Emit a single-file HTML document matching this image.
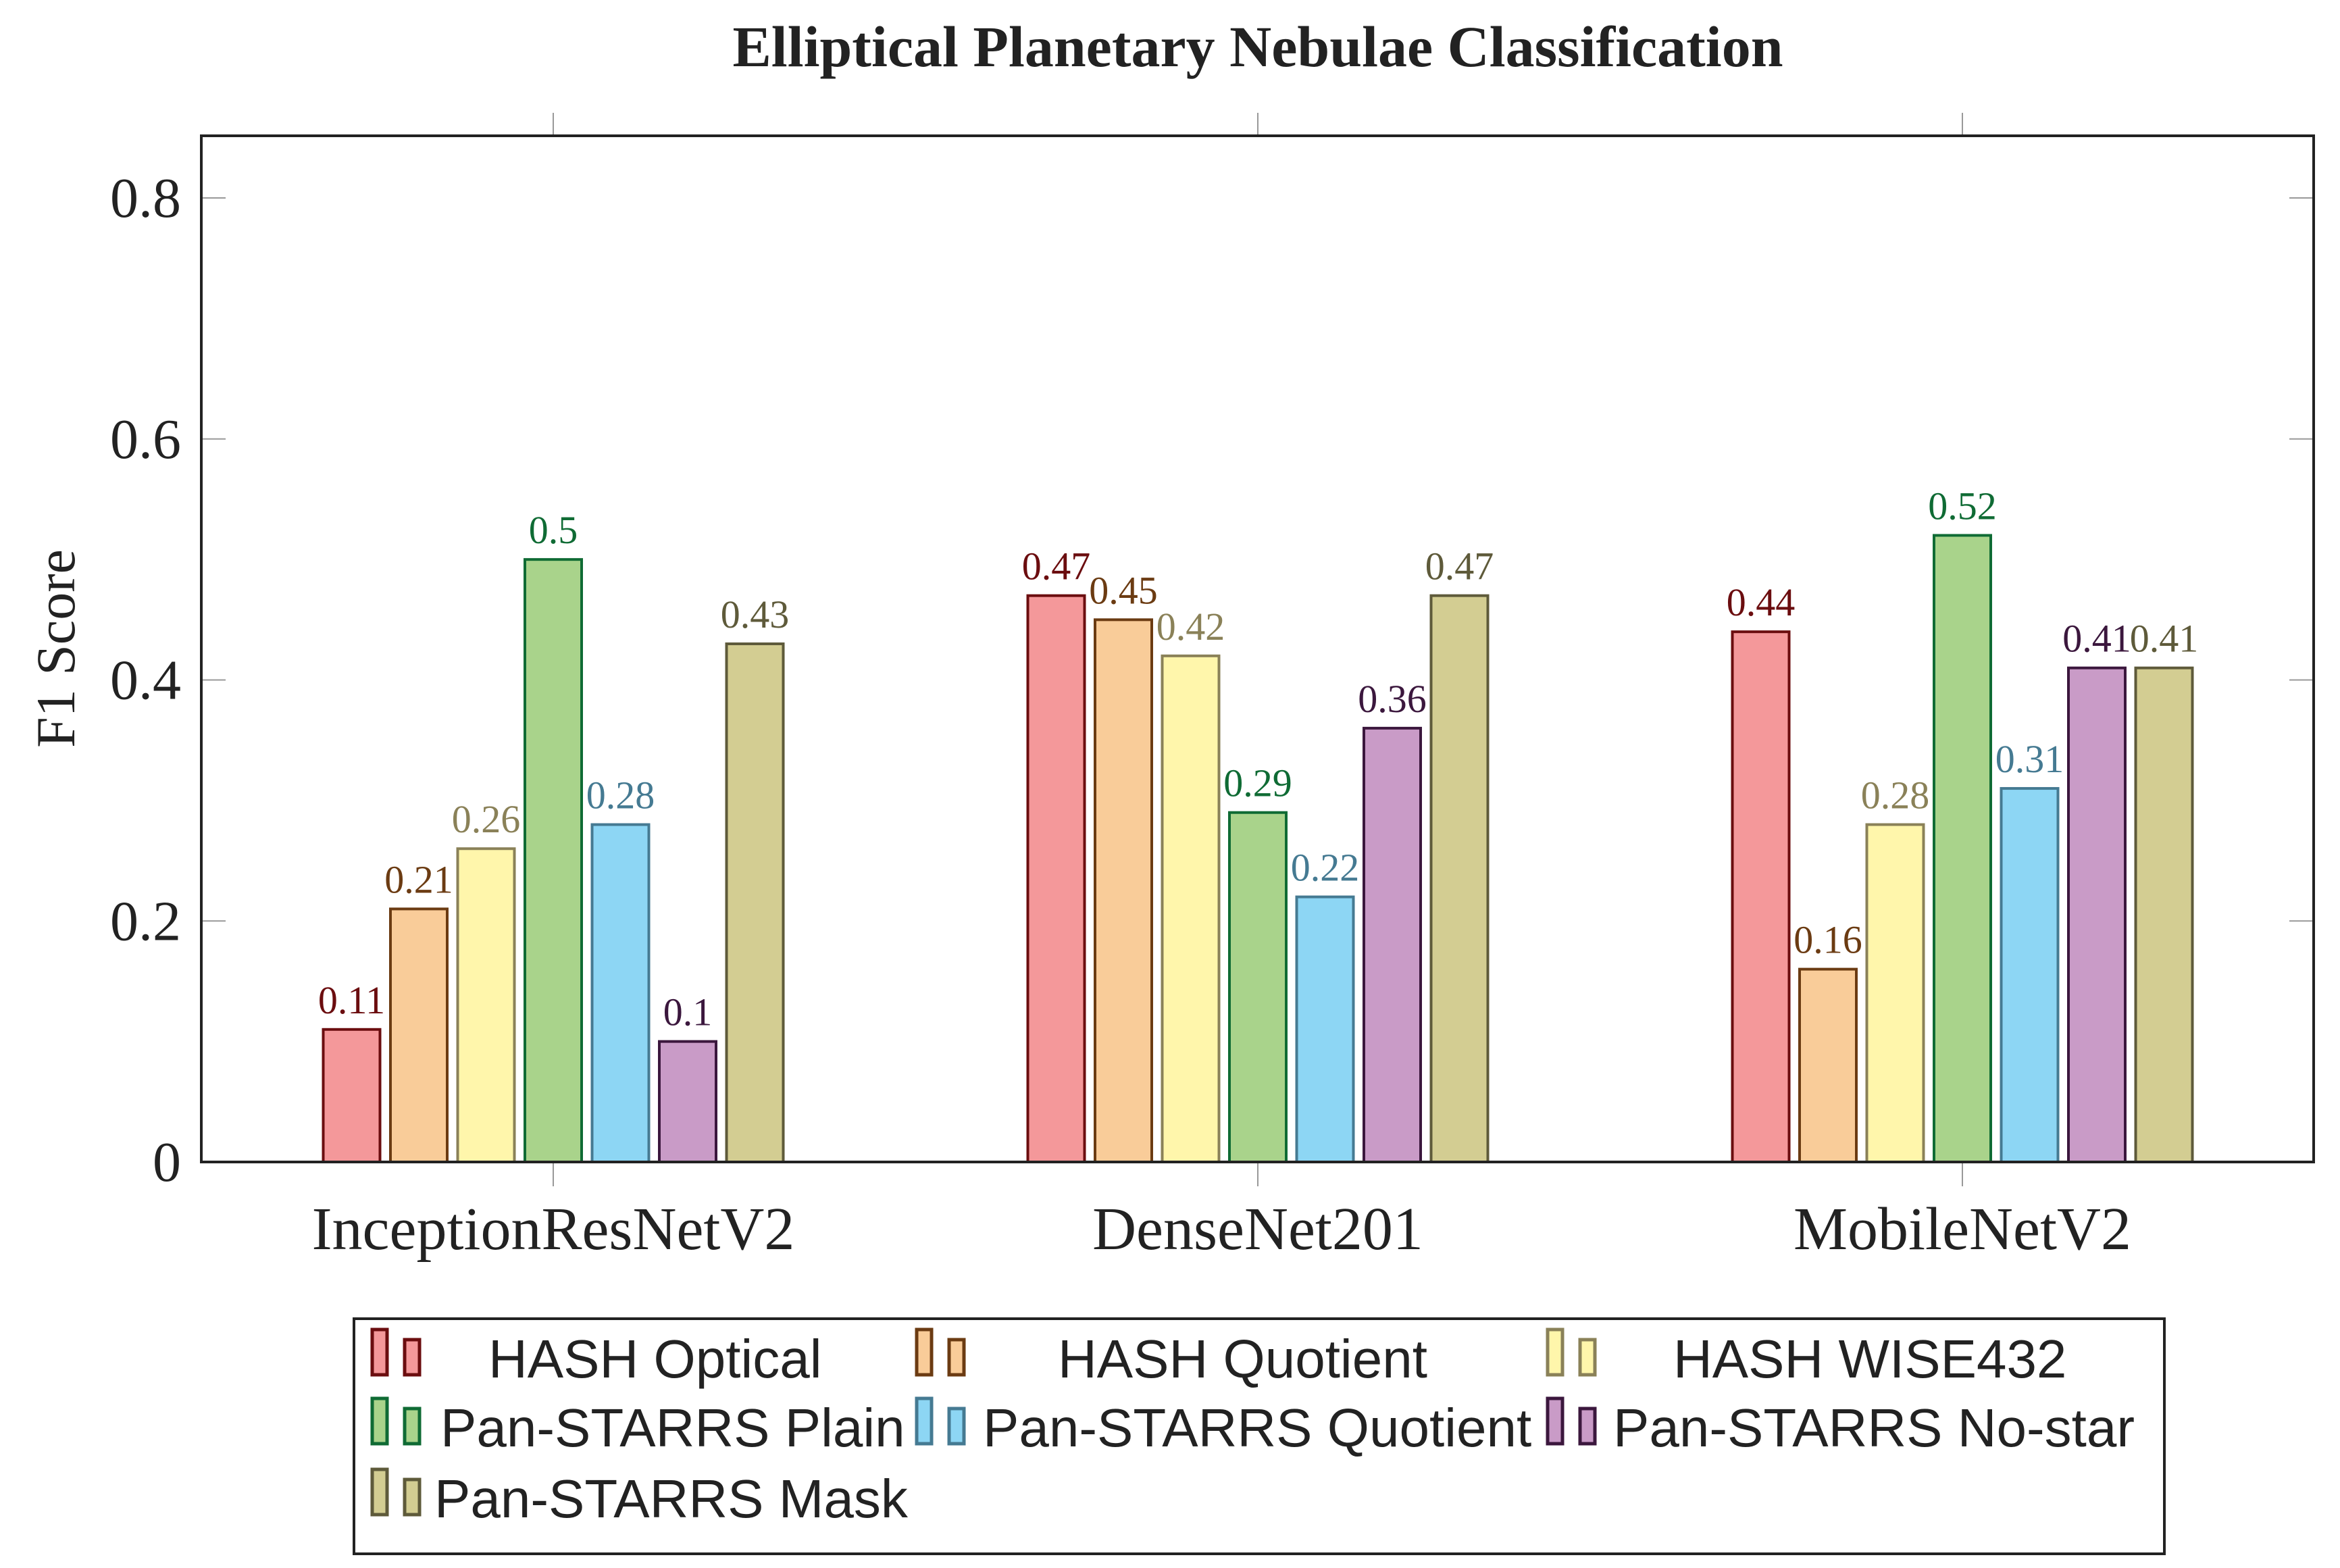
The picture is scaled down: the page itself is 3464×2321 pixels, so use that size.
<!DOCTYPE html>
<html><head><meta charset="utf-8"><style>
html,body{margin:0;padding:0;background:#fff;}
svg{display:block;}
</style></head><body>
<svg id="chart" width="3464" height="2321" viewBox="0 0 3464 2321" xmlns="http://www.w3.org/2000/svg" font-family="'Liberation Serif', serif">
<text x="1862" y="98" text-anchor="middle" font-size="86" font-weight="bold" fill="#222">Elliptical Planetary Nebulae Classification</text>
<text transform="translate(110,960) rotate(-90)" text-anchor="middle" font-size="82" fill="#222">F1 Score</text>
<g id="plot"></g>
<rect x="298" y="201" width="3127" height="1519" fill="none" stroke="#222" stroke-width="4"/>
<g id="legend"></g>
</svg>
<script>
const categories = ["InceptionResNetV2","DenseNet201","MobileNetV2"];
const seriesNames = ["HASH Optical","HASH Quotient","HASH WISE432","Pan-STARRS Plain","Pan-STARRS Quotient","Pan-STARRS No-star","Pan-STARRS Mask"];
const hashOptical = [0.11,0.47,0.44];
const hashQuotient = [0.21,0.45,0.16];
const hashWise = [0.26,0.42,0.28];
const psPlain = [0.5,0.29,0.52];
const psQuotient = [0.28,0.22,0.31];
const psNoStar = [0.1,0.36,0.41];
const psMask = [0.43,0.47,0.41];
const yTicks = [0,0.2,0.4,0.6,0.8];
const yTickLabels = ["0","0.2","0.4","0.6","0.8"];

const series = [hashOptical,hashQuotient,hashWise,psPlain,psQuotient,psNoStar,psMask];
const fills = ["#f4989a","#f9cc99","#fff6ab","#a9d38b","#8dd6f4","#c99bc7","#d3cd92"];
const strokes = ["#6b0d0f","#6b3b12","#8a8158","#0f6b34","#457a92","#3b173d","#5e5a3a"];
const NS = "http://www.w3.org/2000/svg";
const plot = document.getElementById('plot');
const X0=298, X1=3425, Y0=1720, Y1=201, YMAX=0.8516;
function y(v){return Y0 - v/YMAX*(Y0-Y1);}
function cx(i){return 819 + i*1043;}
const STEP=99.5, BW=84;
function mk(tag, attrs){const e=document.createElementNS(NS,tag);for(const k in attrs)e.setAttribute(k,attrs[k]);return e;}

yTicks.forEach((t,i)=>{
  const l=mk('line',{x1:X0,x2:X0+36,y1:y(t),y2:y(t),stroke:'#999','stroke-width':2});
  
  
  plot.appendChild(l);
  const r=mk('line',{x1:X1-36,x2:X1,y1:y(t),y2:y(t),stroke:'#999','stroke-width':2});
  
  
  plot.appendChild(r);
  const tx=mk('text',{x:268,y:y(t)+28,'text-anchor':'end','font-size':84,fill:'#222'});
  tx.textContent=yTickLabels[i];
  
  
  plot.appendChild(tx);
});
categories.forEach((c,i)=>{
  const a=mk('line',{x1:cx(i),x2:cx(i),y1:Y1-34,y2:Y1,stroke:'#999','stroke-width':2});
  
  
  plot.appendChild(a);
  const b=mk('line',{x1:cx(i),x2:cx(i),y1:Y0,y2:Y0+36,stroke:'#999','stroke-width':2});
  
  
  plot.appendChild(b);
  const t=mk('text',{x:cx(i),y:1849,'text-anchor':'middle','font-size':90,fill:'#222'});
  t.textContent=c;
  
  
  plot.appendChild(t);
});
series.forEach((s,si)=>{
  s.forEach((v,ci)=>{
    const xc=cx(ci)+(si-3)*STEP;
    const r=mk('rect',{x:xc-BW/2,y:y(v),width:BW,height:Y0-y(v),fill:fills[si],stroke:strokes[si],'stroke-width':4});
    
    
    plot.appendChild(r);
    const t=mk('text',{x:xc,y:y(v)-24,'text-anchor':'middle','font-size':58,fill:strokes[si]});
    t.textContent=String(v);
    
    
    plot.appendChild(t);
  });
});
// legend
const lg=document.getElementById('legend');
const box=mk('rect',{x:524,y:1952,width:2680,height:348,fill:'#fff',stroke:'#222','stroke-width':4});


lg.appendChild(box);
const iconX=[551,1357,2291];
const rowBase=[2035,2137,2242];
const textX=[[723,1566,2477],[652,1455,2388],[643]];
seriesNames.forEach((n,i)=>{
  const row=Math.floor(i/3), col=i%3;
  const g=mk('g',{});
  
  
  const bx=iconX[col], bb=rowBase[row];
  g.appendChild(mk('rect',{x:bx,y:bb-67,width:22,height:67,fill:fills[i],stroke:strokes[i],'stroke-width':5}));
  g.appendChild(mk('rect',{x:bx+48,y:bb-52,width:22,height:52,fill:fills[i],stroke:strokes[i],'stroke-width':5}));
  const t=mk('text',{x:textX[row][col],y:bb+4,'font-size':80,fill:'#222','font-family':"'Liberation Sans', sans-serif"});
  t.textContent=n;
  g.appendChild(t);
  lg.appendChild(g);
});
</script>
</body></html>
